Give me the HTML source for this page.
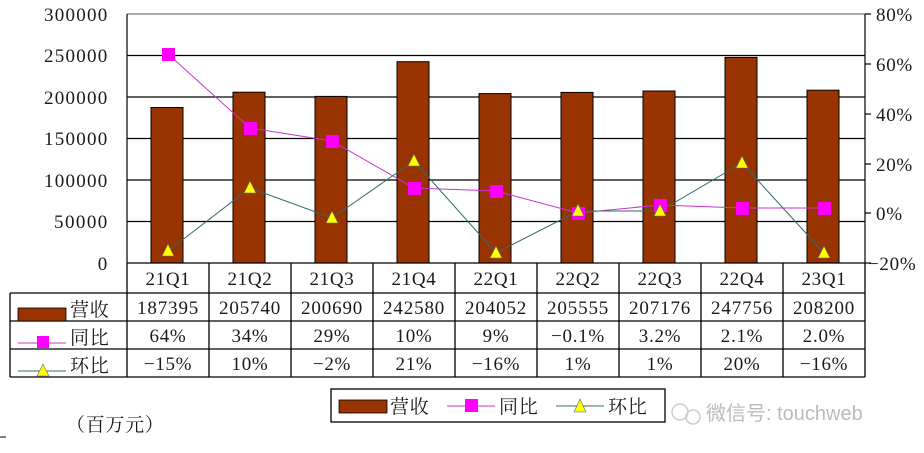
<!DOCTYPE html>
<html><head><meta charset="utf-8"><style>
body{margin:0;background:#fff;}
svg{display:block;font-family:"Liberation Serif","Noto Serif CJK SC",serif;}
.t{font-size:19px;fill:#1a1a1a;letter-spacing:0.7px;}
</style></head><body>
<svg width="924" height="453" viewBox="0 0 924 453" xmlns="http://www.w3.org/2000/svg">
<rect width="924" height="453" fill="#fff"/>
<g stroke="#000" stroke-width="1.2">
<line x1="127" y1="14" x2="865" y2="14" stroke="#777"/>
<line x1="127" y1="55.5" x2="865" y2="55.5"/>
<line x1="127" y1="97" x2="865" y2="97"/>
<line x1="127" y1="138.5" x2="865" y2="138.5"/>
<line x1="127" y1="180" x2="865" y2="180"/>
<line x1="127" y1="221.5" x2="865" y2="221.5"/>
<line x1="127" y1="14" x2="127" y2="263"/>
<line x1="865" y1="14" x2="865" y2="263"/>
<line x1="865" y1="14" x2="871" y2="14"/><line x1="865" y1="64" x2="871" y2="64"/><line x1="865" y1="114" x2="871" y2="114"/><line x1="865" y1="164" x2="871" y2="164"/><line x1="865" y1="213" x2="871" y2="213"/><line x1="865" y1="263" x2="871" y2="263"/>
</g>
<g text-anchor="end">
<text x="108" y="21" class="t" textLength="64">300000</text><text x="108" y="62" class="t" textLength="64">250000</text><text x="108" y="104" class="t" textLength="64">200000</text><text x="108" y="145" class="t" textLength="64">150000</text><text x="108" y="187" class="t" textLength="64">100000</text><text x="108" y="228" class="t" textLength="54">50000</text><text x="108" y="270" class="t">0</text>
</g>
<g text-anchor="start">
<text x="876" y="21" class="t">80%</text><text x="876" y="71" class="t">60%</text><text x="876" y="121" class="t">40%</text><text x="876" y="171" class="t">20%</text><text x="876" y="220" class="t">0%</text><text x="868" y="270" class="t">−20%</text>
</g>
<g fill="#993300" stroke="#000" stroke-width="1">
<rect x="151" y="107.5" width="32" height="155.5"/>
<rect x="233" y="92.2" width="32" height="170.8"/>
<rect x="315" y="96.4" width="32" height="166.6"/>
<rect x="397" y="61.7" width="32" height="201.3"/>
<rect x="479" y="93.6" width="32" height="169.4"/>
<rect x="561" y="92.4" width="32" height="170.6"/>
<rect x="643" y="91" width="32" height="172"/>
<rect x="725" y="57.4" width="32" height="205.6"/>
<rect x="807" y="90.2" width="32" height="172.8"/>
</g>
<polyline fill="none" stroke="#cc33cc" stroke-width="1" points="168,54 250,128 332,141 414,188 496,191 578,213 660,205 742,208 824,208"/>
<polyline fill="none" stroke="#2f6b6b" stroke-width="1" points="168,251 250,188 332,218 414,161 496,253 578,211 660,211 742,163 824,253"/>
<g fill="#ff00ff">
<rect x="162" y="48" width="13" height="13"/><rect x="244" y="122" width="13" height="13"/><rect x="326" y="135" width="13" height="13"/><rect x="408" y="182" width="13" height="13"/><rect x="490" y="185" width="13" height="13"/><rect x="572" y="207" width="13" height="13"/><rect x="654" y="199" width="13" height="13"/><rect x="736" y="202" width="13" height="13"/><rect x="818" y="202" width="13" height="13"/>
</g>
<g fill="#ffff00" stroke="#666" stroke-width="0.6">
<polygon points="168,244 162,256 174,256"/><polygon points="250,181 244,193 256,193"/><polygon points="332,211 326,223 338,223"/><polygon points="414,154 408,166 420,166"/><polygon points="496,246 490,258 502,258"/><polygon points="578,204 572,216 584,216"/><polygon points="660,204 654,216 666,216"/><polygon points="742,156 736,168 748,168"/><polygon points="824,246 818,258 830,258"/>
</g>
<g stroke="#000" stroke-width="1.3" fill="none">
<line x1="127" y1="263" x2="865" y2="263"/>
<line x1="10" y1="293" x2="865" y2="293"/>
<line x1="10" y1="321" x2="865" y2="321"/>
<line x1="10" y1="349" x2="865" y2="349"/>
<line x1="10" y1="377" x2="865" y2="377"/>
<line x1="10" y1="293" x2="10" y2="377"/>
<line x1="127" y1="263" x2="127" y2="377"/>
<line x1="209" y1="263" x2="209" y2="377"/><line x1="291" y1="263" x2="291" y2="377"/><line x1="373" y1="263" x2="373" y2="377"/><line x1="455" y1="263" x2="455" y2="377"/><line x1="537" y1="263" x2="537" y2="377"/><line x1="619" y1="263" x2="619" y2="377"/><line x1="701" y1="263" x2="701" y2="377"/><line x1="783" y1="263" x2="783" y2="377"/><line x1="865" y1="263" x2="865" y2="377"/>
</g>
<g text-anchor="middle">
<text x="168" y="285" class="t">21Q1</text><text x="250" y="285" class="t">21Q2</text><text x="332" y="285" class="t">21Q3</text><text x="414" y="285" class="t">21Q4</text><text x="496" y="285" class="t">22Q1</text><text x="578" y="285" class="t">22Q2</text><text x="660" y="285" class="t">22Q3</text><text x="742" y="285" class="t">22Q4</text><text x="824" y="285" class="t">23Q1</text>
<text x="168" y="314" class="t" textLength="62">187395</text><text x="250" y="314" class="t" textLength="62">205740</text><text x="332" y="314" class="t" textLength="62">200690</text><text x="414" y="314" class="t" textLength="62">242580</text><text x="496" y="314" class="t" textLength="62">204052</text><text x="578" y="314" class="t" textLength="62">205555</text><text x="660" y="314" class="t" textLength="62">207176</text><text x="742" y="314" class="t" textLength="62">247756</text><text x="824" y="314" class="t" textLength="62">208200</text>
<text x="168" y="342" class="t">64%</text><text x="250" y="342" class="t">34%</text><text x="332" y="342" class="t">29%</text><text x="414" y="342" class="t">10%</text><text x="496" y="342" class="t">9%</text><text x="578" y="342" class="t">−0.1%</text><text x="660" y="342" class="t">3.2%</text><text x="742" y="342" class="t">2.1%</text><text x="824" y="342" class="t">2.0%</text>
<text x="168" y="370" class="t">−15%</text><text x="250" y="370" class="t">10%</text><text x="332" y="370" class="t">−2%</text><text x="414" y="370" class="t">21%</text><text x="496" y="370" class="t">−16%</text><text x="578" y="370" class="t">1%</text><text x="660" y="370" class="t">1%</text><text x="742" y="370" class="t">20%</text><text x="824" y="370" class="t">−16%</text>
</g>
<rect x="18" y="308" width="48" height="13" fill="#993300" stroke="#000" stroke-width="0.8"/>
<text x="70" y="316" class="t" font-size="20">营收</text>
<line x1="18" y1="343" x2="66" y2="343" stroke="#cc33cc" stroke-width="1"/><rect x="37" y="336" width="12" height="12" fill="#ff00ff"/>
<text x="70" y="344" class="t" font-size="20">同比</text>
<line x1="18" y1="371" x2="66" y2="371" stroke="#2f6b6b" stroke-width="1"/><polygon points="43,364 37,376 49,376" fill="#ffff00" stroke="#666" stroke-width="0.6"/>
<text x="70" y="372" class="t" font-size="20">环比</text>
<rect x="331" y="389" width="334" height="33" fill="#fff" stroke="#000" stroke-width="1.3"/>
<rect x="339" y="400" width="48" height="13" fill="#993300" stroke="#000" stroke-width="0.8"/>
<text x="390" y="413" class="t" font-size="20">营收</text>
<line x1="447" y1="406" x2="495" y2="406" stroke="#cc33cc"/><rect x="465" y="399" width="13" height="13" fill="#ff00ff"/>
<text x="499" y="413" class="t" font-size="20">同比</text>
<line x1="556" y1="406" x2="604" y2="406" stroke="#2f6b6b"/><polygon points="580,399 574,412 586,412" fill="#ffff00" stroke="#666" stroke-width="0.6"/>
<text x="608" y="413" class="t" font-size="20">环比</text>
<circle cx="680" cy="412" r="8" fill="none" stroke="#ccc" stroke-width="1.5"/><circle cx="693" cy="417" r="7" fill="none" stroke="#ccc" stroke-width="1.5"/>
<text x="706" y="420" font-family="Liberation Sans,Noto Sans CJK SC,sans-serif" font-size="20" fill="#bbb">微信号: touchweb</text>
<text x="66" y="431" class="t" font-size="20">（百万元）</text>
<line x1="0" y1="437" x2="6" y2="437" stroke="#000"/>
</svg>
</body></html>
